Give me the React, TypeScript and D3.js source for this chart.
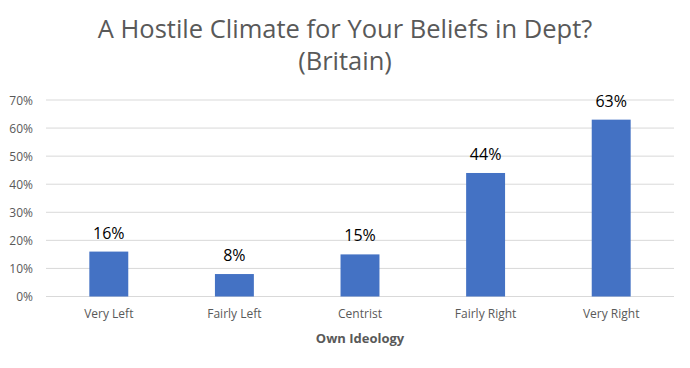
import React, { useEffect, useRef } from 'react'
import * as d3 from 'd3'

const categories = ['Very Left', 'Fairly Left', 'Centrist', 'Fairly Right', 'Very Right']
const values = [16, 8, 15, 44, 63]
const yTicks = [0, 10, 20, 30, 40, 50, 60, 70]

const W = 690
const H = 368
const FONT = "'Open Sans', 'Liberation Sans', sans-serif"

export default function App() {
    const ref = useRef<SVGSVGElement>(null)

    useEffect(() => {
        const svg = d3.select(ref.current)
        svg.selectAll('*').remove()

        const x = d3.scaleBand().domain(categories).range([46, 674]).paddingInner(0.69).paddingOuter(0.345)
        const y = d3.scaleLinear().domain([0, 70]).range([296.5, 100])

        // title
        svg.append('text')
            .attr('x', 345).attr('y', 38)
            .attr('text-anchor', 'middle')
            .style('font-family', FONT).style('font-size', '25.5px')
            .attr('fill', '#595959')
            .text('A Hostile Climate for Your Beliefs in Dept?')
        svg.append('text')
            .attr('x', 345).attr('y', 70)
            .attr('text-anchor', 'middle')
            .style('font-family', FONT).style('font-size', '25.5px')
            .attr('fill', '#595959')
            .text('(Britain)')

        // gridlines
        svg.append('g').selectAll('line')
            .data(yTicks)
            .enter().append('line')
            .attr('x1', 46).attr('x2', 674)
            .attr('y1', d => y(d)).attr('y2', d => y(d))
            .attr('stroke', '#d9d9d9').attr('stroke-width', 1)

        // y labels
        svg.append('g').selectAll('text')
            .data(yTicks)
            .enter().append('text')
            .attr('x', 33).attr('y', d => y(d) + 4.5)
            .attr('text-anchor', 'end')
            .style('font-family', FONT).style('font-size', '12px')
            .attr('fill', '#595959')
            .text(d => d + '%')

        // bars
        svg.append('g').selectAll('rect')
            .data(values)
            .enter().append('rect')
            .attr('x', (d, i) => x(categories[i])!)
            .attr('width', x.bandwidth())
            .attr('y', d => y(d))
            .attr('height', d => y(0) - y(d))
            .attr('fill', '#4472c4')

        // data labels
        svg.append('g').selectAll('text')
            .data(values)
            .enter().append('text')
            .attr('x', (d, i) => x(categories[i])! + x.bandwidth() / 2)
            .attr('y', d => y(d) - 13)
            .attr('text-anchor', 'middle')
            .style('font-family', FONT).style('font-size', '16px')
            .attr('fill', '#000')
            .text(d => d + '%')

        // x labels
        svg.append('g').selectAll('text')
            .data(categories)
            .enter().append('text')
            .attr('x', d => x(d)! + x.bandwidth() / 2)
            .attr('y', 318)
            .attr('text-anchor', 'middle')
            .style('font-family', FONT).style('font-size', '12px')
            .attr('fill', '#595959')
            .text(d => d)

        svg.append('text')
            .attr('x', 360).attr('y', 343)
            .attr('text-anchor', 'middle')
            .style('font-family', FONT).style('font-size', '13px').style('font-weight', 'bold')
            .attr('fill', '#595959')
            .text('Own Ideology')
    }, [])

    return (
        <svg ref={ref} width={W} height={H} style={{ position: 'absolute', left: 0, top: 0 }} />
    )
}
